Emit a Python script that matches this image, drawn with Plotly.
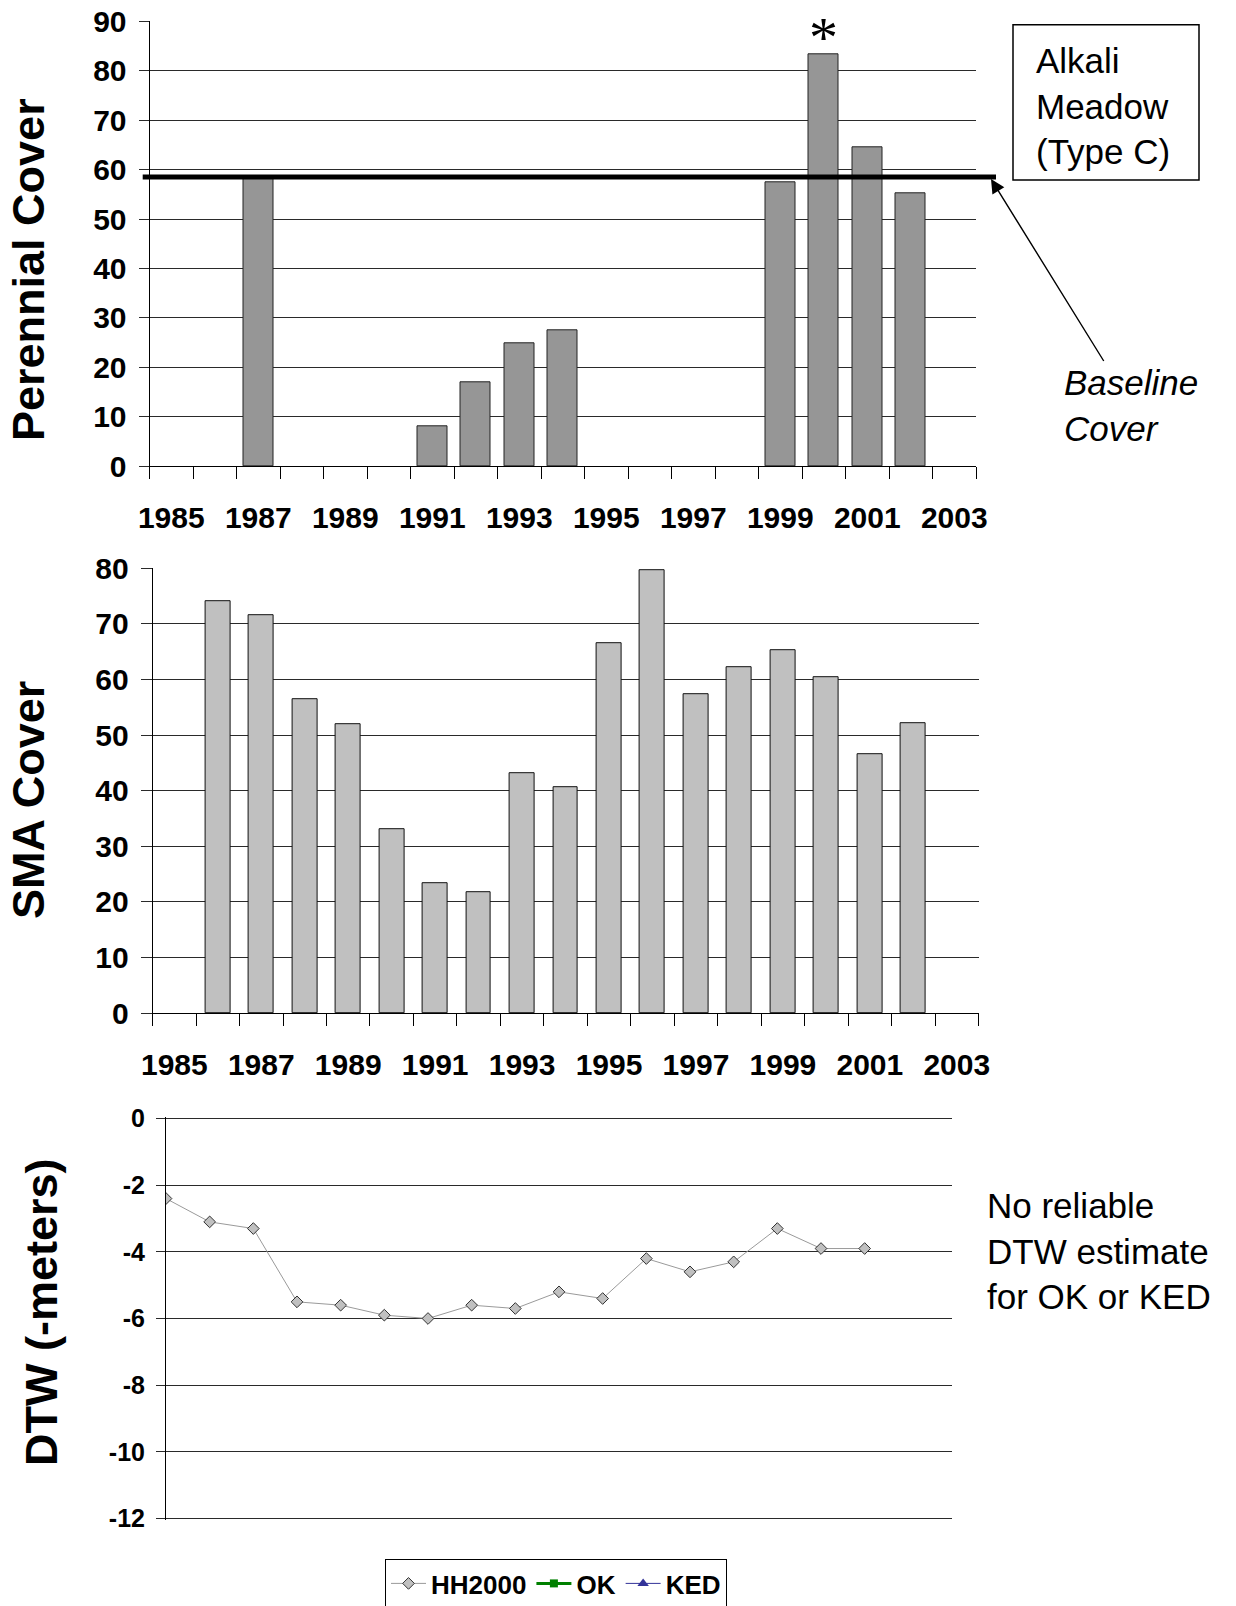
import plotly.graph_objects as go

# ---- data -------------------------------------------------------------
perennial_years = [1987, 1991, 1992, 1993, 1994, 1999, 2000, 2001, 2002]
perennial_cover = [58.3, 8.1, 16.9, 24.8, 27.6, 57.5, 83.3, 64.6, 55.2]
baseline_cover = 58.5

sma_years = list(range(1986, 2003))
sma_cover = [74.0, 71.5, 56.4, 51.9, 33.0, 23.4, 21.7, 43.1, 40.6,
             66.5, 79.6, 57.4, 62.2, 65.2, 60.4, 46.6, 52.1]

dtw_years = list(range(1985, 2002))
dtw_hh2000 = [-2.4, -3.1, -3.3, -5.5, -5.6, -5.9, -6.0, -5.6, -5.7,
              -5.2, -5.4, -4.2, -4.6, -4.3, -3.3, -3.9, -3.9]
dtw_ok = []    # no reliable estimate
dtw_ked = []   # no reliable estimate

year_labels = list(range(1985, 2004, 2))
dtw_ticks = [0, -2, -4, -6, -8, -10, -12]

# ---- layout helpers ---------------------------------------------------
W, H = 1236, 1606
FONT = "Liberation Sans, Arial, sans-serif"
GRID = "#2a2a2a"


def px_x(x):
    return x / W


def px_y(y):
    return (H - y) / H


def series(years, values):
    # keep empty series in the legend by giving them a single gap point
    if not values:
        return [None], [None]
    return years[:len(values)], values


fig = go.Figure()

# Perennial cover bars
fig.add_trace(go.Bar(
    x=perennial_years, y=perennial_cover, width=0.68,
    marker=dict(color="#969696", line=dict(color="#222", width=1)),
    xaxis="x", yaxis="y", showlegend=False))

# SMA cover bars
fig.add_trace(go.Bar(
    x=sma_years, y=sma_cover, width=0.573,
    marker=dict(color="#c0c0c0", line=dict(color="#111", width=1)),
    xaxis="x2", yaxis="y2", showlegend=False))

# Depth to water
hx, hy = series(dtw_years, dtw_hh2000)
fig.add_trace(go.Scatter(
    x=hx, y=hy, mode="lines+markers", name="HH2000",
    line=dict(color="#9a9a9a", width=1),
    marker=dict(symbol="diamond", size=9, color="#c0c0c0",
                line=dict(color="#333", width=1)),
    xaxis="x3", yaxis="y3"))
ox, oy = series(dtw_years, dtw_ok)
fig.add_trace(go.Scatter(
    x=ox, y=oy, mode="lines+markers", name="OK",
    line=dict(color="#008000", width=3),
    marker=dict(symbol="square", size=8, color="#008000"),
    xaxis="x3", yaxis="y3"))
kx, ky = series(dtw_years, dtw_ked)
fig.add_trace(go.Scatter(
    x=kx, y=ky, mode="lines+markers", name="KED",
    line=dict(color="#333399", width=1),
    marker=dict(symbol="triangle-up", size=10, color="#333399"),
    xaxis="x3", yaxis="y3"))

tick_font = dict(family=FONT, size=30, color="black", weight="bold")


def cat_xaxis(domain, anchor):
    return dict(
        domain=domain, anchor=anchor, range=[1984.5, 2003.5],
        tickmode="array", tickvals=year_labels,
        ticktext=[str(v) for v in year_labels],
        ticks="", tickfont=tick_font, ticklabelstandoff=25,
        showgrid=False, zeroline=False,
        showline=True, linecolor="black", linewidth=1,
        minor=dict(tick0=1984.5, dtick=1, ticks="outside", ticklen=12,
                   tickcolor="black", tickwidth=1, showgrid=False),
        fixedrange=True)


def val_yaxis(domain, anchor, rng, vals, ticklen, font):
    return dict(
        domain=domain, anchor=anchor, range=rng,
        tickmode="array", tickvals=vals, ticktext=[str(v) for v in vals],
        showgrid=True, gridcolor=GRID, gridwidth=1,
        zeroline=False, showline=True, linecolor="black", linewidth=1,
        ticks="outside", ticklen=ticklen, tickcolor=GRID, tickwidth=1,
        tickfont=font, ticklabelstandoff=6, fixedrange=True)


# DTW axis: pad the range a hair so the 0 and -12 grid lines are drawn,
# and widen the domain by the same amount so the scale is unchanged
dtw_pad = 0.05
dtw_px_per_unit = (1518.4 - 1118.6) / 12
dtw_pad_px = dtw_pad * dtw_px_per_unit

fig.update_layout(
    width=W, height=H,
    margin=dict(l=0, r=0, t=0, b=0, autoexpand=False),
    paper_bgcolor="white", plot_bgcolor="white",
    bargap=0, barmode="overlay",
    xaxis=cat_xaxis([px_x(149.5), px_x(976)], "y"),
    yaxis=val_yaxis([px_y(466.3), px_y(21.3)], "x", [0, 90],
                    list(range(0, 91, 10)), 10, tick_font),
    xaxis2=cat_xaxis([px_x(152.6), px_x(978.5)], "y2"),
    yaxis2=val_yaxis([px_y(1013.1), px_y(568.2)], "x2", [0, 80],
                     list(range(0, 81, 10)), 11, tick_font),
    xaxis3=dict(domain=[px_x(166), px_x(952)], anchor="y3",
                range=[1985, 2003], showgrid=False, zeroline=False,
                showline=False, showticklabels=False, ticks="",
                fixedrange=True),
    yaxis3=val_yaxis([px_y(1518.4 + dtw_pad_px), px_y(1118.6 - dtw_pad_px)],
                     "x3", [-12 - dtw_pad, 0 + dtw_pad], dtw_ticks, 9,
                     dict(family=FONT, size=25, color="black",
                          weight="bold")),
    legend=dict(
        orientation="h", x=px_x(385), y=px_y(1559), xanchor="left",
        yanchor="top", bordercolor="black", borderwidth=1,
        bgcolor="white",
        font=dict(family=FONT, size=26, color="black", weight="bold"),
        itemwidth=35, tracegroupgap=0),
)

# baseline cover line across the perennial panel
fig.add_shape(type="line", xref="paper", yref="y",
              x0=px_x(142.7), x1=px_x(996),
              y0=baseline_cover, y1=baseline_cover,
              line=dict(color="black", width=5))

# vegetation type box
fig.add_shape(type="rect", xref="paper", yref="paper",
              x0=px_x(1013), x1=px_x(1199), y0=px_y(180), y1=px_y(24.8),
              line=dict(color="black", width=1.5), fillcolor="rgba(0,0,0,0)")

annotations = [
    # axis titles
    dict(text="<b>Perennial Cover</b>", x=px_x(28), y=px_y(270),
         textangle=-90, font=dict(family=FONT, size=45, color="black")),
    dict(text="<b>SMA Cover</b>", x=px_x(28), y=px_y(800),
         textangle=-90, font=dict(family=FONT, size=45, color="black")),
    dict(text="<b>DTW (-meters)</b>", x=px_x(41), y=px_y(1312),
         textangle=-90, font=dict(family=FONT, size=45, color="black")),
    # vegetation type label
    dict(text="Alkali<br>Meadow<br>(Type C)", x=px_x(1034),
         y=px_y(105.75), xanchor="left", align="left",
         font=dict(family=FONT, size=35, color="black")),
    # baseline pointer
    dict(text="<i>Baseline<br>Cover</i>", x=px_x(991), y=px_y(179),
         ax=140, ay=226, showarrow=True, arrowhead=2, arrowsize=2,
         arrowwidth=1.4, arrowcolor="black", align="left",
         font=dict(family=FONT, size=35, color="black")),
    # DTW note
    dict(text="No reliable<br>DTW estimate<br>for OK or KED",
         x=px_x(985.4), y=px_y(1251), xanchor="left", align="left",
         font=dict(family=FONT, size=35, color="black")),
]
for a in annotations:
    a.setdefault("xref", "paper")
    a.setdefault("yref", "paper")
    a.setdefault("showarrow", False)
    a.setdefault("xanchor", "center")
    a.setdefault("yanchor", "middle")
    fig.add_annotation(**a)

# asterisk flag over the 2000 perennial bar
flag_i = perennial_years.index(2000)
fig.add_annotation(text="*", x=2000, y=perennial_cover[flag_i],
                   xref="x", yref="y", showarrow=False, yanchor="middle",
                   yshift=17,
                   font=dict(family="Liberation Serif, Times New Roman, serif",
                             size=58, color="black"))

fig.write_html("out.html")
